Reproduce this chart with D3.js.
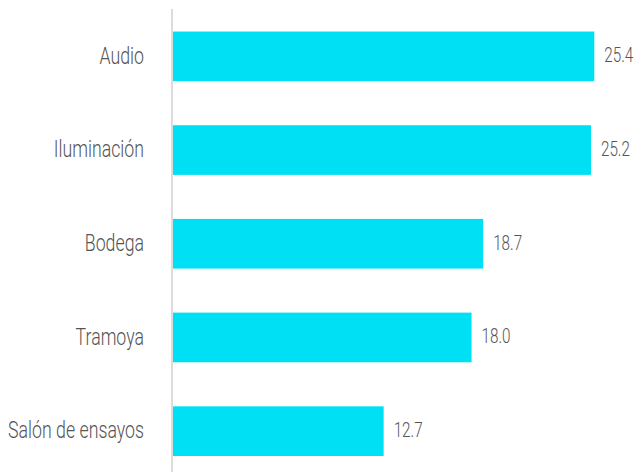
<!DOCTYPE html>
<html>
<head>
<meta charset="utf-8">
<script src="https://cdn.jsdelivr.net/npm/d3@7"></script>
<style>
  html, body { margin: 0; padding: 0; background: #fff; }
  svg { display: block; }
  text { font-family: "Roboto", "Liberation Sans", sans-serif; font-weight: 300; }
</style>
</head>
<body>
<svg id="chart" width="635" height="472"></svg>
<script>
const categories = ["Audio", "Iluminación", "Bodega", "Tramoya", "Salón de ensayos"];
const values = [25.4, 25.2, 18.7, 18.0, 12.7];

const svg = d3.select("#chart");
const W = 635, H = 472;

const x = d3.scaleLinear().domain([0, 25.4]).range([173, 594.3]);
const y = d3.scaleBand().domain(categories).range([9.5, 478]).paddingInner(0.47).paddingOuter(0.235);

// axis line
svg.append("line")
  .attr("x1", 172).attr("x2", 172)
  .attr("y1", 9).attr("y2", H)
  .attr("stroke", "#dcdcdc").attr("stroke-width", 2);

// bars
svg.selectAll("rect.bar").data(categories).join("rect")
  .attr("class", "bar")
  .attr("x", x(0))
  .attr("y", d => y(d))
  .attr("width", (d, i) => x(values[i]) - x(0))
  .attr("height", y.bandwidth())
  .attr("fill", "#00e0f4");

// condensing factors (reference font is a condensed face)
function measure(str, size) {
  const t = svg.append("text").attr("font-size", size).text(str);
  const w = t.node().getComputedTextLength();
  t.remove();
  return w;
}
const catSize = 24, valSize = 19.5;
const kCat = 136 / measure("Salón de ensayos", catSize);
const kVal = 29 / measure("25.4", valSize);

// category labels
svg.selectAll("text.cat").data(categories).join("text")
  .attr("class", "cat")
  .attr("transform", d => `translate(144,${y(d) + y.bandwidth() / 2 - 1.5}) scale(${kCat},1)`)
  .attr("dy", "0.36em")
  .attr("text-anchor", "end")
  .attr("font-size", catSize)
  .attr("fill", "#555555")
  .text(d => d);

// value labels
svg.selectAll("text.val").data(categories).join("text")
  .attr("class", "val")
  .attr("transform", (d, i) => `translate(${x(values[i]) + 10},${y(d) + y.bandwidth() / 2 - 1}) scale(${kVal},1)`)
  .attr("dy", "0.36em")
  .attr("font-size", valSize)
  .attr("fill", "#555555")
  .text((d, i) => values[i].toFixed(1));
</script>
</body>
</html>
